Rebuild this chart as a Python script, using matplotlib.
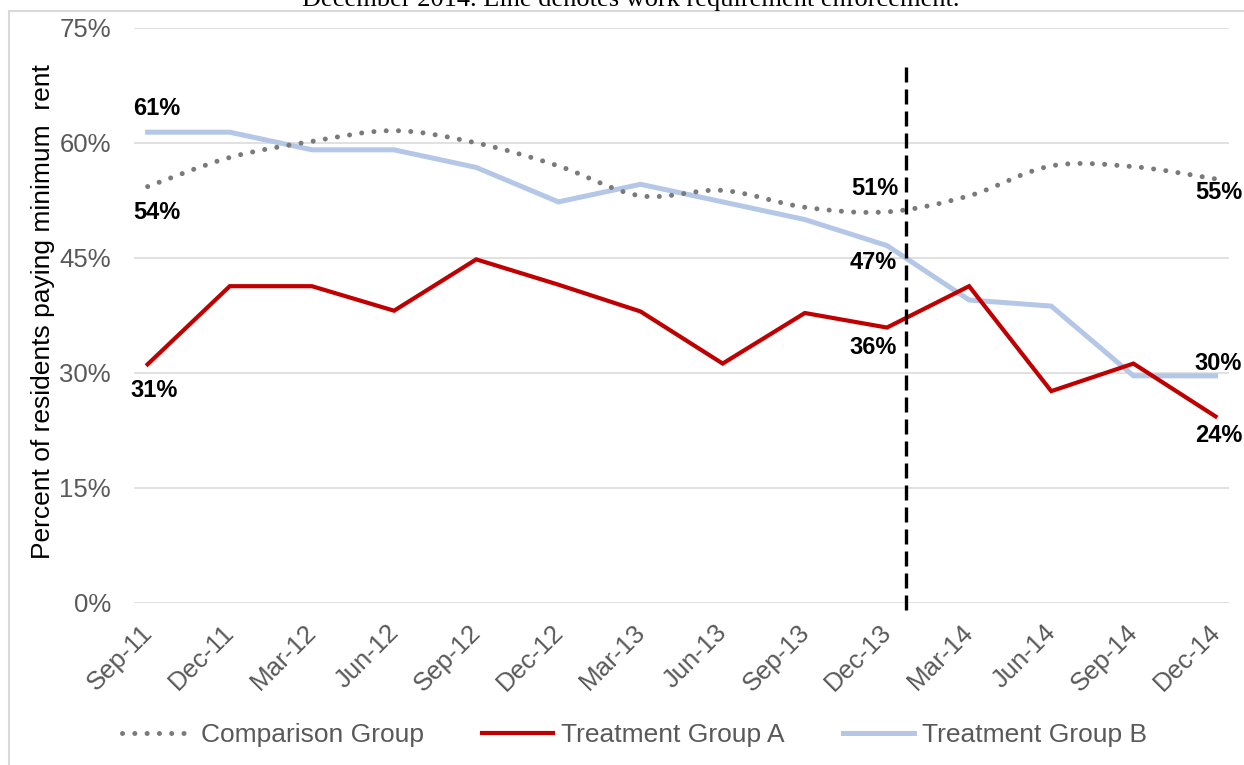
import numpy as np
import matplotlib
matplotlib.use("Agg")
import matplotlib.pyplot as plt
from matplotlib.path import Path
from matplotlib.patches import PathPatch, Rectangle
from matplotlib.lines import Line2D
from matplotlib.transforms import ScaledTranslation

quarters = ["Sep-11", "Dec-11", "Mar-12", "Jun-12", "Sep-12", "Dec-12", "Mar-13",
            "Jun-13", "Sep-13", "Dec-13", "Mar-14", "Jun-14", "Sep-14", "Dec-14"]
comparison = [54.3, 58.1, 60.2, 61.6, 60.0, 57.0, 53.1, 53.8, 51.6, 51.0, 53.1, 57.0, 56.9, 55.3]
treatment_a = [31.1, 41.3, 41.3, 38.1, 44.8, 41.5, 38.0, 31.2, 37.8, 35.9, 41.3, 27.6, 31.2, 24.3]
treatment_b = [61.4, 61.4, 59.1, 59.1, 56.8, 52.3, 54.6, 52.3, 50.0, 46.6, 39.5, 38.7, 29.6, 29.6]
yticks = [0, 15, 30, 45, 60, 75]
enforcement_x = 9.23  # work requirement enforcement, just after Dec-13

grey = "#7a7a7a"
red = "#c00000"
blue = "#b4c7e7"
text_grey = "#595959"
dots = (0, (0.01, 2.45))

plt.rcParams["font.family"] = ["Liberation Sans", "DejaVu Sans"]

fig = plt.figure(figsize=(12.44, 7.65), dpi=100)
ax = fig.add_axes([0.1077, 0.2123, 0.8802, 0.7511])
x = np.arange(len(quarters))


# excel style smoothed line (catmull-rom -> bezier)
def smooth_path(xs, ys):
    pts = np.column_stack([xs, ys]).astype(float)
    n = len(pts)
    verts = [pts[0]]
    codes = [Path.MOVETO]
    for i in range(n - 1):
        p0 = pts[max(i - 1, 0)]
        p1 = pts[i]
        p2 = pts[i + 1]
        p3 = pts[min(i + 2, n - 1)]
        verts += [p1 + (p2 - p0) / 6, p2 - (p3 - p1) / 6, p2]
        codes += [Path.CURVE4] * 3
    return Path(verts, codes)


ax.plot(x, treatment_b, color=blue, lw=3.6, zorder=3, solid_joinstyle="miter")
ax.add_patch(PathPatch(smooth_path(x, comparison), fill=False, edgecolor=grey,
                       lw=3.6, linestyle=dots, capstyle="round", zorder=4))
ax.plot(x, treatment_a, color=red, lw=3.0, zorder=5, solid_joinstyle="miter")

# enforcement line
ax.plot([enforcement_x, enforcement_x], [-0.013, 0.941], color="black", lw=2.4,
        linestyle=(0, (4.5, 2.1)), transform=ax.get_xaxis_transform(),
        clip_on=False, zorder=6)

# data labels (first, enforcement, last)
labels = [
    (0, treatment_b, 9, 25), (0, comparison, 9, -24), (0, treatment_a, 6, -25),
    (9, comparison, -12, 25), (9, treatment_b, -14, -15), (9, treatment_a, -14, -18),
    (13, comparison, 3, -12), (13, treatment_b, 3, 14), (13, treatment_a, 3, -18),
]
for i, series, dx, dy in labels:
    ax.annotate(f"{series[i]:.0f}%", (x[i], series[i]), xytext=(dx, dy - 8),
                textcoords="offset pixels", ha="center", va="baseline",
                fontsize=17, fontweight="bold", color="black", zorder=7)

ax.set_xlim(-0.166, 13.163)
ax.set_ylim(0, 75)
ax.set_yticks(yticks)
ax.set_yticklabels([f"{v}%" for v in yticks])
ax.set_xticks(x)
ax.set_xticklabels(quarters, rotation=45, ha="right", va="center",
                   rotation_mode="anchor")
ax.tick_params(axis="both", length=0, labelsize=18.5, labelcolor=text_grey)
ax.tick_params(axis="x", pad=18.7)
ax.tick_params(axis="y", pad=16.6)
for lab in ax.get_xticklabels():
    lab.set_transform(lab.get_transform() + ScaledTranslation(0.01, 0, fig.dpi_scale_trans))

ax.grid(axis="y", color="#d9d9d9", lw=1.1)
ax.set_axisbelow(True)
for s in ax.spines.values():
    s.set_visible(False)

ax.set_ylabel("Percent of residents paying minimum  rent", fontsize=19, color="black")
ax.yaxis.set_label_coords(-0.072, 0.507)

handles = [
    Line2D([], [], color=grey, lw=3.6, linestyle=dots, dash_capstyle="round"),
    Line2D([], [], color=red, lw=3.0),
    Line2D([], [], color=blue, lw=3.6),
]
fig.legend(handles, ["Comparison Group", "Treatment Group A", "Treatment Group B"],
           loc="center", bbox_to_anchor=(634.5 / 1244, 1 - 735 / 765), ncol=3,
           frameon=False, fontsize=19, handlelength=2.7, handletextpad=0.3,
           columnspacing=2.2, labelcolor=text_grey)

# caption cut off at top and chart border
fig.text(631 / 1244, 1 - 6 / 765, "December 2014. Line denotes work requirement enforcement.",
         ha="center", va="baseline", fontsize=19, family=["Liberation Serif"], color="black")
fig.patches.append(Rectangle((8.5 / 1244, -0.05), 1.2, 1 - 11.5 / 765 + 0.05,
                             transform=fig.transFigure, fill=False,
                             edgecolor="#d9d9d9", lw=1.5))

fig.savefig("out.png", dpi=100)
